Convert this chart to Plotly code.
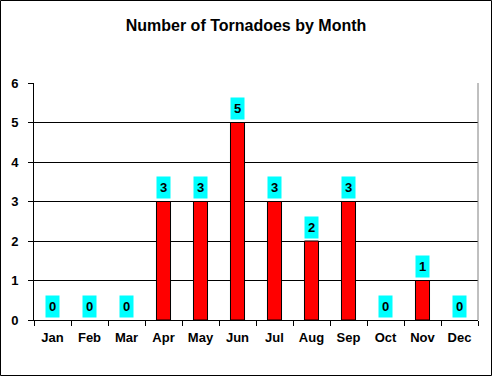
import plotly.graph_objects as go

months = ["Jan", "Feb", "Mar", "Apr", "May", "Jun", "Jul", "Aug", "Sep", "Oct", "Nov", "Dec"]
tornadoes = [0, 0, 0, 3, 3, 5, 3, 2, 3, 0, 1, 0]
y_ticks = [0, 1, 2, 3, 4, 5, 6]

W, H = 492, 376
L, R, T, B = 34, 14, 83, 56
pw, ph = W - L - R, H - T - B
FONT = "Arial, Liberation Sans, sans-serif"

fig = go.Figure(go.Bar(
    x=months, y=tornadoes,
    marker=dict(color="#FF0000",
                line=dict(color="black", width=[1 if v > 0 else 0 for v in tornadoes])),
    width=0.38,
))

for m, v in zip(months, tornadoes):
    fig.add_annotation(
        x=m, y=v, text=f"<b>{v}</b>", showarrow=False, yshift=14,
        bgcolor="#00FFFF", font=dict(family=FONT, size=13, color="black"),
        borderpad=3,
    )

# outer figure border
fig.add_shape(type="rect", xref="paper", yref="paper",
              x0=(-L + 0.5) / pw, x1=(pw + R - 0.5) / pw,
              y0=(-B + 0.5) / ph, y1=(ph + T - 0.5) / ph,
              line=dict(color="black", width=1), layer="above")

fig.update_layout(
    width=W, height=H,
    margin=dict(l=L, r=R, t=T, b=B),
    paper_bgcolor="white", plot_bgcolor="white",
    title=dict(text="<b>Number of Tornadoes by Month</b>", x=0.5, xanchor="center",
               y=1 - 25 / H, yanchor="middle",
               font=dict(family=FONT, size=16, color="black")),
    font=dict(family=FONT, size=13, color="black"),
    showlegend=False,
    xaxis=dict(
        tickmode="array", tickvals=months, ticktext=[f"<b>{m}</b>" for m in months],
        tickson="boundaries", ticks="outside", ticklen=5, tickcolor="black",
        ticklabelstandoff=5,
        showline=True, linecolor="black", linewidth=1,
        showgrid=False, mirror=False, range=[-0.5, 11.5],
    ),
    yaxis=dict(
        range=[0, 6], tickmode="array", tickvals=y_ticks,
        ticktext=[f"<b>{t}</b>" for t in y_ticks],
        ticks="outside", ticklen=5, tickcolor="black",
        ticklabelstandoff=7,
        showline=True, linecolor="black", linewidth=1,
        showgrid=True, gridcolor="black", gridwidth=1, zeroline=False,
    ),
)

# right plot-area border (gray)
fig.add_shape(type="line", xref="paper", yref="paper", x0=1, x1=1, y0=0, y1=1,
              line=dict(color="#808080", width=1))

fig.write_html("out.html", config={"displayModeBar": False},
               post_script="document.body.style.margin='0';")
